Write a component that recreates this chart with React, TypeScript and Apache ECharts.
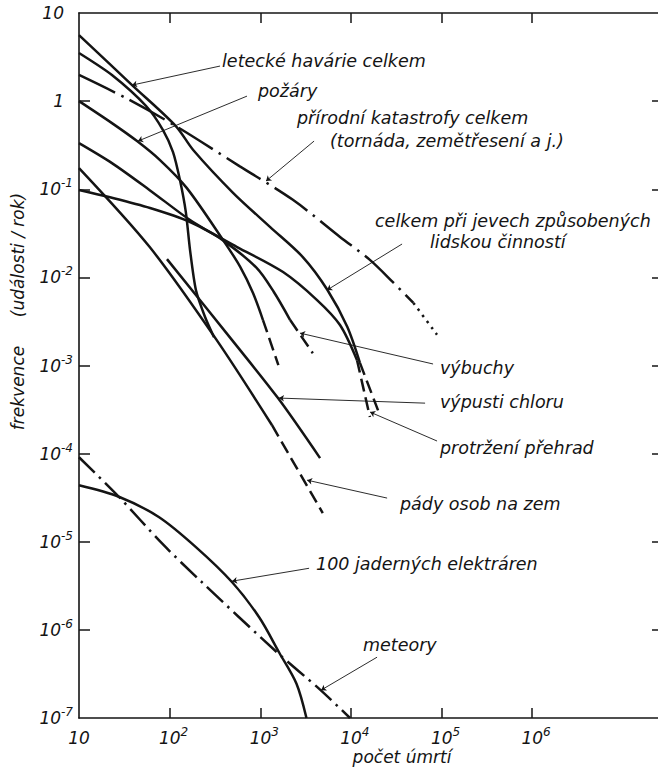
import { useEffect, useRef } from 'react';
import * as echarts from 'echarts';

const FONT = '"DejaVu Sans", "Liberation Sans", sans-serif';
const INK = '#141414';

// ---- axis ticks ----
const xTickValues = [10, 1e2, 1e3, 1e4, 1e5, 1e6];
const xTickLabels = ['10', '10^2', '10^3', '10^4', '10^5', '10^6'];
const yTickValues = [10, 1, 1e-1, 1e-2, 1e-3, 1e-4, 1e-5, 1e-6, 1e-7];
const yTickLabels = ['10', '1', '10^-1', '10^-2', '10^-3', '10^-4', '10^-5', '10^-6', '10^-7'];

// ---- curves: [number of deaths, events per year] ----
const totalHuman = [[10, 5.62], [38.5, 1.52], [117, 0.521], [182, 0.279], [501, 0.0912], [1288, 0.0372], [2951, 0.017], [5495, 0.00724], [9120, 0.00275], [12590, 0.00107]];
const totalHumanTail = [[12590, 0.00107], [19950, 0.00031]];
const airCrashes = [[10, 3.52], [23.1, 1.98], [55, 0.88], [84.5, 0.47], [109, 0.264], [130, 0.127], [151, 0.055], [168, 0.0204], [195, 0.00718], [246, 0.00355], [309, 0.00209]];
const naturalTotal = [[10, 1.98], [33.1, 1.08], [117, 0.521], [589, 0.183], [2291, 0.0759], [7586, 0.0288], [16218, 0.0158], [29512, 0.0087], [48978, 0.00513]];
const naturalTail = [[48978, 0.00513], [89125, 0.00224]];
const fires = [[10, 1.0], [23.1, 0.563], [43.7, 0.352], [78.3, 0.214], [155, 0.103], [389, 0.0265], [603, 0.0131], [832, 0.00664], [1072, 0.00328]];
const firesTail = [[1072, 0.00328], [1585, 0.00101]];
const explosions = [[10, 0.334], [23.1, 0.198], [60.3, 0.0977], [168, 0.0447], [389, 0.0263], [912, 0.0128], [1413, 0.00682], [2138, 0.00328]];
const explosionsTail = [[2138, 0.00328], [3802, 0.00138]];
const groundPersons = [[10, 0.174], [60.3, 0.0221], [331, 0.00194], [1349, 0.00021]];
const groundPersonsTail = [[1349, 0.00021], [4898, 2.11e-5]];
const dams = [[10, 0.098], [21.4, 0.0815], [60.8, 0.0612], [168, 0.0425], [555, 0.0221], [1786, 0.0115], [4236, 0.00553], [7586, 0.00288], [11695, 0.00115]];
const damsTail = [[11695, 0.00115], [16218, 0.00026]];
const chlorine = [[93.5, 0.0161], [489, 0.00194], [1570, 0.000427], [4571, 8.9e-5]];
const nuclear100 = [[10, 4.37e-5], [27.5, 3.24e-5], [75.9, 1.91e-5], [195, 8.7e-6], [490, 3.47e-6], [977, 1.38e-6], [1622, 5.5e-7], [2512, 2.45e-7], [3236, 1e-7]];
const meteors = [[10, 9.1e-5], [27.5, 3.24e-5], [83, 9.5e-6], [219, 3.6e-6], [1549, 5.5e-7], [4571, 2.1e-7], [9772, 1e-7]];

// ---- leader lines: [label end, curve end] ----
const leaders = [
  [[360, 2.5], [38.5, 1.52]],
  [[714, 1.14], [44.8, 0.352]],
  [[3926, 0.352], [1159, 0.124]],
  [[36728, 0.0239], [5458, 0.00718]],
  [[80700, 0.00104], [2748, 0.00233]],
  [[65900, 3.74e-4], [1610, 4.27e-4]],
  [[89300, 1.39e-4], [16300, 2.96e-4]],
  [[25100, 3.13e-5], [3289, 5.0e-5]],
  [[3459, 5.0e-6], [489, 3.57e-6]],
  [[19450, 4.9e-7], [4690, 2.07e-7]],
];

// ---- annotation texts ----
const annotations = [
  { text: 'letecké havárie celkem', x: 222, y: 61 },
  { text: 'požáry', x: 258, y: 91 },
  { text: 'přírodní katastrofy celkem', x: 297, y: 118 },
  { text: '(tornáda, zemětřesení a j.)', x: 330, y: 141 },
  { text: 'celkem při jevech způsobených', x: 375, y: 221 },
  { text: 'lidskou činností', x: 430, y: 242 },
  { text: 'výbuchy', x: 440, y: 368 },
  { text: 'výpusti chloru', x: 440, y: 402 },
  { text: 'protržení přehrad', x: 440, y: 448 },
  { text: 'pády osob na zem', x: 400, y: 504 },
  { text: '100 jaderných elektráren', x: 316, y: 564 },
  { text: 'meteory', x: 363, y: 645 },
];

const DASH = [13, 6];
const DASH_DOT_LONG = [40, 7, 2.5, 7];
const DASH_DOT_SHORT = [22, 6, 2.5, 6];
const DOTS = [2.5, 5];

function findLabel(values: number[], labels: string[], v: number) {
  const i = values.findIndex((t) => Math.abs(Math.log10(t) - Math.log10(v)) < 1e-6);
  return i < 0 ? '' : labels[i];
}

function yFormatter(v: number) {
  const l = findLabel(yTickValues, yTickLabels, v);
  if (!l) return '';
  const [b, s] = l.split('^');
  return s ? `{b|${b}}{s|${s}}` : `{b|${b}}{p| }`;
}
function xFormatter(v: number) {
  const l = findLabel(xTickValues, xTickLabels, v);
  if (!l) return '';
  const [b, s] = l.split('^');
  return s ? `{q| }{b|${b}}{s|${s}}` : `{b|${b}}`;
}

const rich = {
  b: { fontFamily: FONT, fontStyle: 'italic', fontSize: 17, color: INK, lineHeight: 24 },
  s: { fontFamily: FONT, fontStyle: 'italic', fontSize: 12, color: INK, lineHeight: 12, verticalAlign: 'top' },
  p: { width: 9, fontSize: 12, lineHeight: 12 },
  q: { width: 8, fontSize: 12, lineHeight: 12 },
};

function curve(data: number[][], dash: any, width = 2.5, smooth = 0.3) {
  return {
    type: 'line',
    data,
    symbol: 'none',
    showSymbol: false,
    smooth,
    silent: true,
    lineStyle: { color: INK, width, type: dash, cap: 'butt' },
  };
}

const XMAX = Math.pow(10, 7.40);

export default function App() {
  const ref = useRef<HTMLDivElement>(null);
  useEffect(() => {
    document.body.style.margin = '0';
    const chart = echarts.init(ref.current!, undefined, { renderer: 'svg' });
    const axisLine = { show: true, lineStyle: { color: INK, width: 1.6 } };
    const tickStyle = { color: INK, width: 1.5 };
    const series: any[] = [
      curve(totalHuman, 'solid'),
      curve(totalHumanTail, DASH),
      curve(airCrashes, 'solid', 2.5, 0.25),
      curve(naturalTotal, DASH_DOT_LONG),
      curve(naturalTail, DOTS),
      curve(fires, 'solid'),
      curve(firesTail, DASH),
      curve(explosions, 'solid'),
      curve(explosionsTail, DASH),
      curve(groundPersons, 'solid'),
      curve(groundPersonsTail, DASH),
      curve(dams, 'solid'),
      curve(damsTail, DASH),
      curve(chlorine, 'solid'),
      curve(nuclear100, 'solid'),
      curve(meteors, DASH_DOT_SHORT),
    ];
    series[0].markLine = {
      silent: true,
      symbol: ['none', 'arrow'],
      symbolSize: 5,
      label: { show: false },
      lineStyle: { color: INK, width: 0.9, type: 'solid' },
      data: leaders.map((l) => [{ coord: l[0] }, { coord: l[1] }]),
    };
    const annFont = { fill: INK, fontFamily: FONT, fontStyle: 'italic', fontSize: 17.5 };
    chart.setOption({
      animation: false,
      backgroundColor: '#ffffff',
      grid: { left: 79, top: 13, right: -1, bottom: 60, outerBoundsMode: 'none' },
      xAxis: [
        {
          type: 'log', logBase: 10, min: 10, max: XMAX, position: 'bottom',
          axisLine,
          axisTick: { show: true, inside: true, length: 10, lineStyle: tickStyle, customValues: xTickValues.slice(1) },
          axisLabel: { show: true, margin: 8, customValues: xTickValues, formatter: xFormatter, rich },
          splitLine: { show: false },
          minorTick: { show: false },
        },
        {
          type: 'log', logBase: 10, min: 10, max: XMAX, position: 'top',
          axisLine,
          axisTick: { show: true, inside: true, length: 10, lineStyle: tickStyle, customValues: xTickValues.slice(1) },
          axisLabel: { show: false },
          splitLine: { show: false },
        },
      ],
      yAxis: [
        {
          type: 'log', logBase: 10, min: 1e-7, max: 10, position: 'left',
          axisLine,
          axisTick: { show: true, inside: true, length: 11, lineStyle: tickStyle, customValues: yTickValues.slice(1, 8) },
          axisLabel: { show: true, margin: 6, customValues: yTickValues, formatter: yFormatter, rich },
          splitLine: { show: false },
        },
        {
          type: 'log', logBase: 10, min: 1e-7, max: 10, position: 'right',
          axisLine,
          axisTick: { show: true, inside: true, length: 7, lineStyle: tickStyle, customValues: yTickValues.slice(1, 8) },
          axisLabel: { show: false },
          splitLine: { show: false },
        },
      ],
      graphic: [
        ...annotations.map((a) => ({
          type: 'text', x: a.x, y: a.y, silent: true,
          style: { text: a.text, ...annFont, align: 'left', verticalAlign: 'middle' },
        })),
        {
          type: 'text', x: 402, y: 757, silent: true,
          style: { text: 'počet úmrtí', ...annFont, fontSize: 17, align: 'center', verticalAlign: 'middle' },
        },
        {
          type: 'text', x: 18, y: 388, rotation: Math.PI / 2, silent: true,
          style: { text: 'frekvence', ...annFont, fontSize: 17, align: 'center', verticalAlign: 'middle' },
        },
        {
          type: 'text', x: 18, y: 255, rotation: Math.PI / 2, silent: true,
          style: { text: '(události / rok)', ...annFont, fontSize: 17, align: 'center', verticalAlign: 'middle' },
        },
      ],
      series,
    });
    return () => chart.dispose();
  }, []);
  return <div ref={ref} style={{ width: 658, height: 778, display: 'block' }} />;
}
